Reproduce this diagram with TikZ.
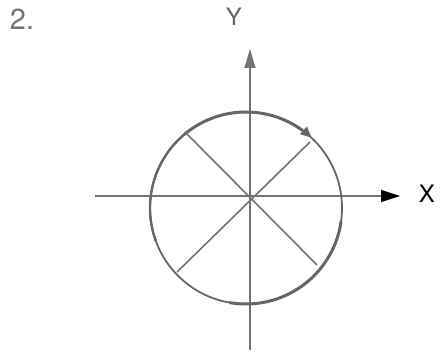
\documentclass[tikz,border=0pt]{standalone}
\usepackage{fontspec}
\setmainfont{TeX Gyre Heros}
\usetikzlibrary{arrows.meta}

\tikzset{
  axisline/.style={line width=1.1pt, black!55},
  spoke/.style={line width=1.6pt, black!55},
  rim/.style={line width=1.8pt, black!60},
  thickrim/.style={line width=3pt, black!60},
  lbl/.style={inner sep=0pt, font=\fontsize{24}{24}\selectfont}
}

\begin{document}
\begin{tikzpicture}[x=1pt, y=1pt]
\useasboundingbox (0,0) rectangle (448,356);
% axes
\coordinate (o) at (250,160);
\coordinate (xs) at (95,160);
\coordinate (xe) at (400,160);
\coordinate (ys) at (250,6);
\coordinate (ye) at (250,307);
\draw[axisline] (xs) -- (o);
\draw[axisline, -{Triangle[length=19pt, width=12pt, black]}] (o) -- (xe);
\draw[axisline] (ys) -- (o);
\draw[axisline, -{Triangle[length=19pt, width=11pt]}] (o) -- (ye);
% circle
\coordinate (c) at (246,148);
\draw[rim] (c) circle [radius=96];
\draw[thickrim] ([shift={(130:96)}]c) arc [start angle=130, end angle=54, radius=96];
\draw[rim, -{Triangle[length=11pt, width=10pt]}] ([shift={(62:96)}]c) arc [start angle=62, end angle=47, radius=96];
\draw[thickrim] ([shift={(-8:96)}]c) arc [start angle=-8, end angle=-100, radius=96];
\draw[thickrim, line width=2.4pt] ([shift={(130:96)}]c) arc [start angle=130, end angle=200, radius=96];
% spokes
\coordinate (nw) at (185,224);
\coordinate (se) at (317,91);
\coordinate (ne) at (310,214);
\coordinate (sw) at (177,84);
\draw[spoke] (nw) -- (se);
\draw[spoke] (ne) -- (sw);
% labels
\node[lbl, black!55, font=\fontsize{29}{29}\selectfont] (num) at (22,337) {2.};
\node[lbl, black!60] (ylab) at (234,339) {Y};
\node[lbl, black] (xlab) at (427,162) {X};
\end{tikzpicture}
\end{document}
